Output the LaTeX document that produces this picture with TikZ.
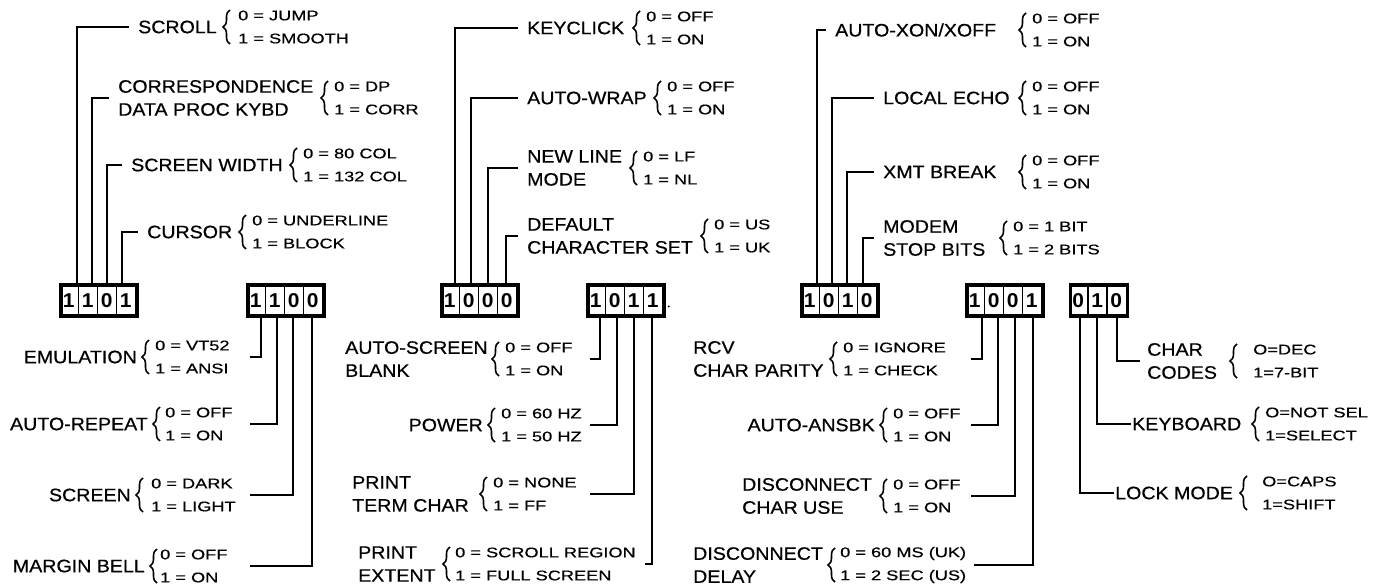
\documentclass[tikz,border=0pt]{standalone}
\usepackage{fontspec}
\setmainfont{Liberation Sans}
\newfontfamily\lblfont{Liberation Sans}[FakeStretch=1.09, FakeBold=0.6]
\newfontfamily\optfont{Liberation Sans}[FakeStretch=1.3, FakeBold=0.5]
\newfontfamily\digfont{Liberation Sans Bold}[FakeStretch=1.05]
\usetikzlibrary{calc,decorations.pathreplacing}
\tikzset{
  lbl/.style={inner sep=0pt, align=left, font=\lblfont\fontsize{18}{23}\selectfont},
  opt/.style={inner sep=0pt, align=left, anchor=west, font=\optfont\fontsize{14}{23}\selectfont},
  brc/.style={decorate, decoration={brace, amplitude=7pt}, line width=1.6pt},
  wire/.style={line width=2.1pt},
  regbox/.style={draw, line width=3.4pt, minimum height=31pt, inner sep=0pt},
  digit/.style={inner sep=0pt, font=\digfont\fontsize{20}{20}\selectfont},
  divider/.style={line width=1.6pt},
}
% #1 id, #2 label anchor, #3 label x, #4 y, #5 brace tip x, #6 options x, #7 label, #8 options
\newcommand\cfgitem[8]{%
  \node[lbl, anchor=#2] (#1) at (#3,#4) {#7};
  \draw[brc] (#5+7,#4+17) -- (#5+7,#4-17);
  \node[opt] (#1o) at (#6,#4) {#8};
}
% #1 name, #2 center x, #3 cells, #4 digits
\newcommand\regbox[4]{%
  \node[regbox, minimum width=#3*19pt] (#1) at (#2,300.5) {};
  \foreach \d [count=\i] in {#4} {
    \node[digit] at ($(#1.west)+(\i*19-9.5,0)$) {\d};
  }
  \pgfmathtruncatemacro\ndiv{#3-1}
  \foreach \i in {1,...,\ndiv} {
    \draw[divider] ($(#1.north west)+(\i*19,0)$) -- ($(#1.south west)+(\i*19,0)$);
  }
}
\begin{document}
\begin{tikzpicture}[x=1pt,y=-1pt]
\fill[white] (0,0) rectangle (1379,588);
\useasboundingbox (0,0) rectangle (1379,588);

% boxes
\regbox{b1}{99}{4}{1,1,0,1}
\regbox{b2}{286}{4}{1,1,0,0}
\regbox{b3}{480}{4}{1,0,0,0}
\regbox{b4}{626}{4}{1,0,1,1}
\regbox{b5}{840}{4}{1,0,1,0}
\regbox{b6}{1005}{4}{1,0,0,1}
\regbox{b7}{1099}{3}{0,1,0}
\fill ($(b4.east)+(3,6)$) circle (1.1pt);

% pins
\coordinate (b1p1) at (77,285);  \coordinate (b1p2) at (92,285);
\coordinate (b1p3) at (107,285); \coordinate (b1p4) at (122,285);
\coordinate (b3p1) at (455,285); \coordinate (b3p2) at (471,285);
\coordinate (b3p3) at (488,285); \coordinate (b3p4) at (506,285);
\coordinate (b5p1) at (817,285); \coordinate (b5p2) at (832,285);
\coordinate (b5p3) at (847,285); \coordinate (b5p4) at (863,285);
\coordinate (b2p1) at (261,316); \coordinate (b2p2) at (277,316);
\coordinate (b2p3) at (293,316); \coordinate (b2p4) at (312,316);
\coordinate (b4p1) at (600,316); \coordinate (b4p2) at (617,316);
\coordinate (b4p3) at (634,316); \coordinate (b4p4) at (652,316);
\coordinate (b6p1) at (982,316); \coordinate (b6p2) at (998,316);
\coordinate (b6p3) at (1015,316); \coordinate (b6p4) at (1033,316);
\coordinate (b7p1) at (1080,316); \coordinate (b7p2) at (1097,316);
\coordinate (b7p3) at (1117,316);

% group 1
\cfgitem{scroll}{west}{138}{27}{223}{238}{SCROLL}{0 = JUMP\\1 = SMOOTH}
\cfgitem{corr}{west}{118}{98}{321}{334}{CORRESPONDENCE\\DATA PROC KYBD}{0 = DP\\1 = CORR}
\cfgitem{swidth}{west}{131}{165}{290}{303}{SCREEN WIDTH}{0 = 80 COL\\1 = 132 COL}
\cfgitem{cursor}{west}{147}{232}{239}{252}{CURSOR}{0 = UNDERLINE\\1 = BLOCK}
% group 2
\cfgitem{keyclick}{west}{527}{28}{633}{646}{KEYCLICK}{0 = OFF\\1 = ON}
\cfgitem{autowrap}{west}{527}{98}{654}{667}{AUTO-WRAP}{0 = OFF\\1 = ON}
\cfgitem{newline}{west}{527}{168}{630}{643}{NEW LINE\\MODE}{0 = LF\\1 = NL}
\cfgitem{default}{west}{527}{236}{701}{714}{DEFAULT\\CHARACTER SET}{0 = US\\1 = UK}
% group 3
\cfgitem{xon}{west}{835}{30}{1019}{1032}{AUTO-XON/XOFF}{0 = OFF\\1 = ON}
\cfgitem{echo}{west}{883}{98}{1019}{1032}{LOCAL ECHO}{0 = OFF\\1 = ON}
\cfgitem{xmt}{west}{883}{172}{1019}{1032}{XMT BREAK}{0 = OFF\\1 = ON}
\cfgitem{modem}{west}{883}{238}{1000}{1013}{MODEM\\STOP BITS}{0 = 1 BIT\\1 = 2 BITS}
% group 4
\cfgitem{emu}{east}{137}{357}{142}{155}{EMULATION}{0 = VT52\\1 = ANSI}
\cfgitem{arep}{east}{148}{424}{153}{165}{AUTO-REPEAT}{0 = OFF\\1 = ON}
\cfgitem{screen}{east}{131}{495}{136}{151}{SCREEN}{0 = DARK\\1 = LIGHT}
\cfgitem{mbell}{east}{145}{566}{150}{160}{MARGIN BELL}{0 = OFF\\1 = ON}
% group 5
\cfgitem{asb}{west}{345}{359}{492}{505}{AUTO-SCREEN\\BLANK}{0 = OFF\\1 = ON}
\cfgitem{power}{east}{483}{425}{488}{501}{POWER}{0 = 60 HZ\\1 = 50 HZ}
\cfgitem{pterm}{west}{352}{494}{480}{493}{PRINT\\TERM CHAR}{0 = NONE\\1 = FF}
\cfgitem{pext}{west}{358}{564}{443}{455}{PRINT\\EXTENT}{0 = SCROLL REGION\\1 = FULL SCREEN}
% group 6
\cfgitem{rcv}{west}{693}{359}{830}{843}{RCV\\CHAR PARITY}{0 = IGNORE\\1 = CHECK}
\cfgitem{ansbk}{east}{875}{425}{880}{893}{AUTO-ANSBK}{0 = OFF\\1 = ON}
\cfgitem{dcuse}{west}{742}{496}{880}{893}{DISCONNECT\\CHAR USE}{0 = OFF\\1 = ON}
\cfgitem{dcdel}{west}{693}{565}{828}{840}{DISCONNECT\\DELAY}{0 = 60 MS (UK)\\1 = 2 SEC (US)}
% group 7
\cfgitem{codes}{west}{1147}{361}{1230}{1253}{CHAR\\CODES}{O=DEC\\1=7-BIT}
\cfgitem{kbd}{west}{1132}{424}{1252}{1265}{KEYBOARD}{O=NOT SEL\\1=SELECT}
\cfgitem{lock}{west}{1115}{493}{1240}{1262}{LOCK MODE}{O=CAPS\\1=SHIFT}

% free ends of bottom connectors
\coordinate (emuL) at (250,357);   \coordinate (arepL) at (250,424);
\coordinate (screenL) at (250,495); \coordinate (mbellL) at (250,566);
\coordinate (asbL) at (590,359);   \coordinate (powerL) at (590,425);
\coordinate (ptermL) at (590,494); \coordinate (pextL) at (645,564);
\coordinate (rcvL) at (971,359);   \coordinate (ansbkL) at (971,425);
\coordinate (dcuseL) at (971,496); \coordinate (dcdelL) at (974,565);

% connectors
\draw[wire] (b1p1) |- ([xshift=-9pt]scroll.west);
\draw[wire] (b1p2) |- ([xshift=-9pt]corr.west);
\draw[wire] (b1p3) |- ([xshift=-9pt]swidth.west);
\draw[wire] (b1p4) |- ([xshift=-9pt]cursor.west);
\draw[wire] (b3p1) |- ([xshift=-9pt]keyclick.west);
\draw[wire] (b3p2) |- ([xshift=-9pt]autowrap.west);
\draw[wire] (b3p3) |- ([xshift=-9pt]newline.west);
\draw[wire] (b3p4) |- ([xshift=-9pt]default.west);
\draw[wire] (b5p1) |- ([xshift=-9pt]xon.west);
\draw[wire] (b5p2) |- ([xshift=-9pt]echo.west);
\draw[wire] (b5p3) |- ([xshift=-9pt]xmt.west);
\draw[wire] (b5p4) |- ([xshift=-9pt]modem.west);
\draw[wire] (b2p1) |- (emuL);
\draw[wire] (b2p2) |- (arepL);
\draw[wire] (b2p3) |- (screenL);
\draw[wire] (b2p4) |- (mbellL);
\draw[wire] (b4p1) |- (asbL);
\draw[wire] (b4p2) |- (powerL);
\draw[wire] (b4p3) |- (ptermL);
\draw[wire] (b4p4) |- (pextL);
\draw[wire] (b6p1) |- (rcvL);
\draw[wire] (b6p2) |- (ansbkL);
\draw[wire] (b6p3) |- (dcuseL);
\draw[wire] (b6p4) |- (dcdelL);
\draw[wire] (b7p3) |- ([xshift=-7pt]codes.west);
\draw[wire] (b7p2) |- ([xshift=-1.5pt]kbd.west);
\draw[wire] (b7p1) |- ([xshift=-1.5pt]lock.west);
\end{tikzpicture}
\end{document}
